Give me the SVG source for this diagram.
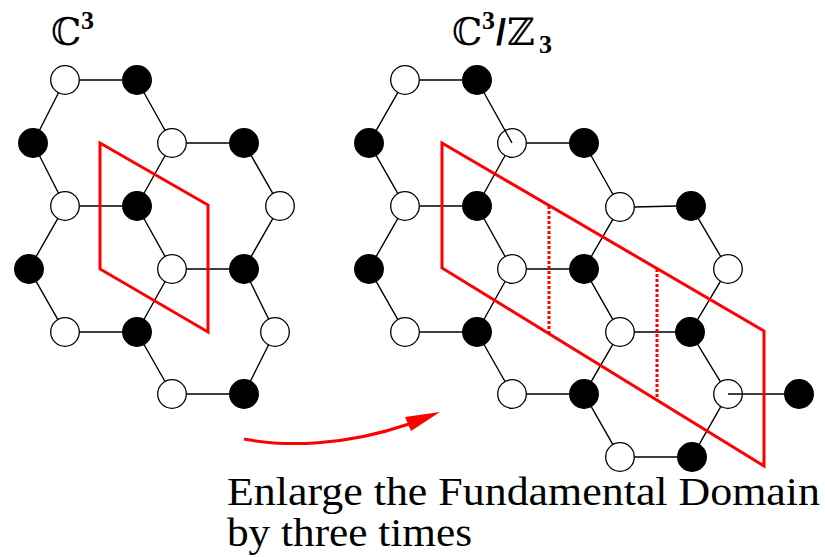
<svg xmlns="http://www.w3.org/2000/svg" width="825" height="557" viewBox="0 0 825 557">
<style>
  .w { fill: #fff; stroke: #000; stroke-width: 1.3; }
  .b { fill: #000; stroke: #000; stroke-width: 1.3; }
  .edge { fill: none; stroke: #000; stroke-width: 1.4; }
  .dom { fill: none; stroke: #f00; stroke-width: 3; stroke-linejoin: miter; }
  .dot { fill: none; stroke: #f00; stroke-width: 3; stroke-dasharray: 3 2; }
  .bb { font-family: "DejaVu Serif", "DejaVu Sans", serif; font-size: 38px; fill: #000; }
  .idx { font-family: "Liberation Serif", serif; font-weight: bold; font-size: 26px; }
  .sl { font-family: "Liberation Sans", sans-serif; font-weight: bold; font-size: 36px; }
  .cap { font-family: "Liberation Serif", "Times New Roman", serif; font-size: 40px; fill: #000; }
</style>
<defs>
  <circle id="n" r="14.3"/>
</defs>
<rect width="825" height="557" fill="#fff"/>

<g id="title-left">
  <text class="bb" x="51" y="45">ℂ<tspan class="idx" x="81" y="29">3</tspan></text>
</g>
<g id="title-right">
  <text class="bb" x="452" y="45">ℂ<tspan class="idx" x="482" y="29">3</tspan><tspan class="sl" x="496" y="45">/</tspan><tspan x="507" y="45">ℤ</tspan><tspan class="idx" x="539" y="53">3</tspan></text>
</g>

<!-- left lattice nodes -->
<g id="L-A1"><use href="#n" class="w" x="65" y="80"/></g>
<g id="L-A2"><use href="#n" class="b" x="137" y="80"/></g>
<g id="L-B1"><use href="#n" class="b" x="33" y="143"/></g>
<g id="L-B2"><use href="#n" class="w" x="172" y="143"/></g>
<g id="L-B3"><use href="#n" class="b" x="244" y="143"/></g>
<g id="L-C1"><use href="#n" class="w" x="65" y="206"/></g>
<g id="L-C2"><use href="#n" class="b" x="137" y="206"/></g>
<g id="L-C3"><use href="#n" class="w" x="280" y="206"/></g>
<g id="L-D1"><use href="#n" class="b" x="29" y="269"/></g>
<g id="L-D2"><use href="#n" class="w" x="172" y="269"/></g>
<g id="L-D3"><use href="#n" class="b" x="244" y="269"/></g>
<g id="L-E1"><use href="#n" class="w" x="65" y="332"/></g>
<g id="L-E2"><use href="#n" class="b" x="137" y="332"/></g>
<g id="L-E3"><use href="#n" class="w" x="275" y="332"/></g>
<g id="L-F1"><use href="#n" class="w" x="172" y="394"/></g>
<g id="L-F2"><use href="#n" class="b" x="244" y="394"/></g>

<!-- right lattice nodes -->
<g id="R-a1"><use href="#n" class="w" x="405" y="80"/></g>
<g id="R-a2"><use href="#n" class="b" x="477" y="80"/></g>
<g id="R-b1"><use href="#n" class="b" x="369" y="143"/></g>
<g id="R-b2"><use href="#n" class="w" x="512" y="143"/></g>
<g id="R-b3"><use href="#n" class="b" x="584" y="143"/></g>
<g id="R-c1"><use href="#n" class="w" x="405" y="206"/></g>
<g id="R-c2"><use href="#n" class="b" x="477" y="206"/></g>
<g id="R-c3"><use href="#n" class="w" x="620" y="207"/></g>
<g id="R-c4"><use href="#n" class="b" x="691" y="206"/></g>
<g id="R-d1"><use href="#n" class="b" x="369" y="269"/></g>
<g id="R-d2"><use href="#n" class="w" x="512" y="269"/></g>
<g id="R-d3"><use href="#n" class="b" x="584" y="269"/></g>
<g id="R-d4"><use href="#n" class="w" x="728" y="269"/></g>
<g id="R-e1"><use href="#n" class="w" x="405" y="332"/></g>
<g id="R-e2"><use href="#n" class="b" x="477" y="332"/></g>
<g id="R-e3"><use href="#n" class="w" x="620" y="332"/></g>
<g id="R-e4"><use href="#n" class="b" x="690" y="332"/></g>
<g id="R-f1"><use href="#n" class="w" x="512" y="394"/></g>
<g id="R-f2"><use href="#n" class="b" x="584" y="394"/></g>
<g id="R-f3"><use href="#n" class="w" x="728" y="394"/></g>
<g id="R-f4"><use href="#n" class="b" x="799" y="394"/></g>
<g id="R-g1"><use href="#n" class="w" x="620" y="457"/></g>
<g id="R-g2"><use href="#n" class="b" x="692" y="457"/></g>

<g id="connectors">
  <path class="edge" d="M79.3,80H122.7 M58.5,92.7L39.5,130.3 M143.9,92.5L165.1,130.5 M39.5,155.7L58.5,193.3 M186.3,143H229.7 M165.1,155.5L143.9,193.5 M251.1,155.4L272.9,193.6 M79.3,206H122.7 M57.9,218.4L36.1,256.6 M143.9,218.5L165.1,256.5 M272.9,218.4L251.1,256.6 M36.1,281.4L57.9,319.6 M186.3,269H229.7 M165.1,281.5L143.9,319.5 M250.3,281.8L268.7,319.2 M79.3,332H122.7 M144,344.5L165,381.5 M268.6,344.8L250.4,381.2 M186.3,394H229.7"/>
  <path class="edge" d="M419.3,80H462.7 M397.9,92.4L376.1,130.6 M483.9,92.5L512,143 M376.1,155.4L397.9,193.6 M526.3,143H569.7 M505.1,155.5L483.9,193.5 M591,155.5L613,194.5 M419.3,206H462.7 M397.9,218.4L376.1,256.6 M483.9,218.5L505.1,256.5 M634.3,207L676.7,206 M612.8,219.4L591.2,256.6 M698.2,218.3L720.8,256.7 M376.1,281.4L397.9,319.6 M526.3,269H569.7 M505.1,281.5L483.9,319.5 M591.1,281.4L612.9,319.6 M720.6,281.2L697.4,319.8 M419.3,332H462.7 M484,344.5L505,381.5 M634.3,332H675.7 M612.8,344.4L591.2,381.6 M697.5,344.2L720.5,381.8 M526.3,394H569.7 M591.1,406.4L612.9,444.6 M720.9,406.4L699.1,444.6 M634.3,457H677.7 M728,394H784.7"/>
</g>

<g id="domain-left">
  <polygon class="dom" points="100,143 208,205 208,332 100,269"/>
</g>
<g id="domain-right">
  <polygon class="dom" points="442,143 764,331 764,466 442,268"/>
  <line class="dot" x1="549" y1="206" x2="549" y2="334"/>
  <line class="dot" x1="657" y1="269" x2="657" y2="400"/>
</g>

<g id="arrow">
  <path d="M244,439 C285,447 345,446 409,424" fill="none" stroke="#f00" stroke-width="3"/>
  <polygon points="440,412 405,417 411,431" fill="#f00"/>
</g>

<g id="caption">
  <text class="cap" x="227" y="505" textLength="593" lengthAdjust="spacingAndGlyphs">Enlarge the Fundamental Domain</text>
  <text class="cap" x="227" y="546" textLength="245" lengthAdjust="spacingAndGlyphs">by three times</text>
</g>
</svg>
